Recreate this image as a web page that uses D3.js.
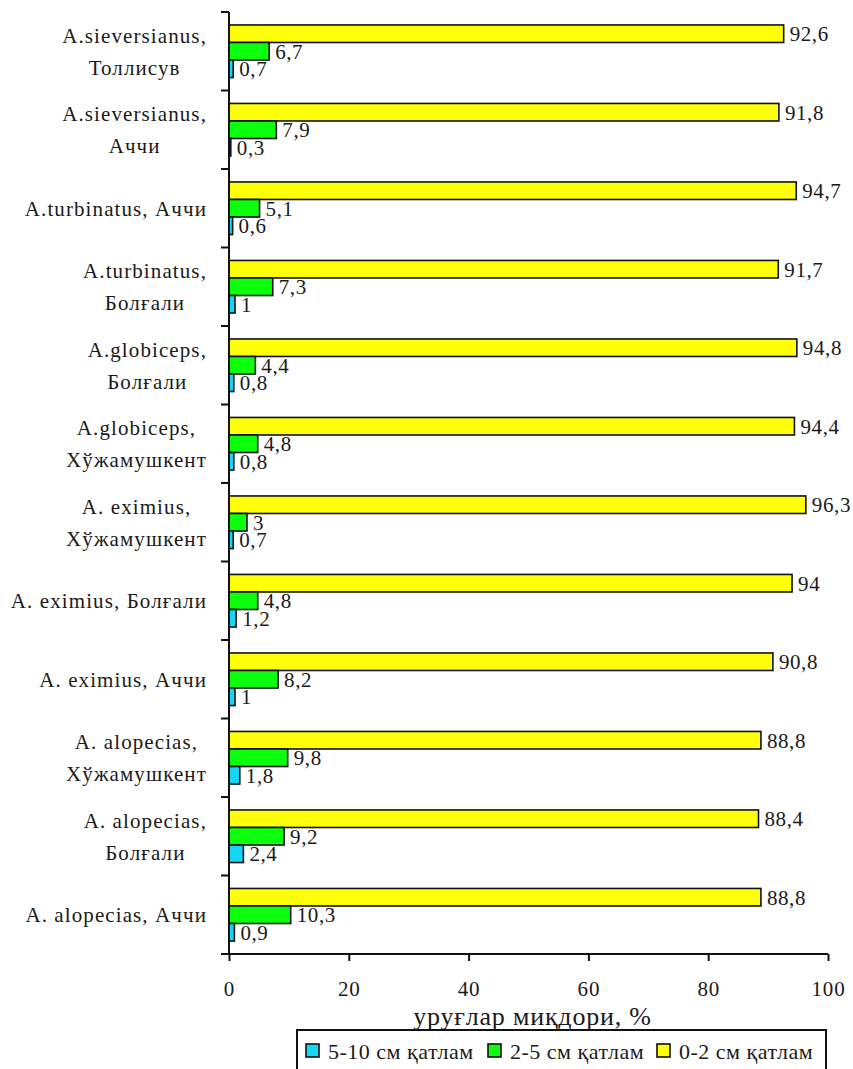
<!DOCTYPE html>
<html>
<head>
<meta charset="utf-8">
<script src="https://cdn.jsdelivr.net/npm/d3@7"></script>
<style>
  body { margin: 0; background: #fff; }
  svg text { font-family: "Liberation Serif", "Times New Roman", serif; fill: #1a1a1a; }
</style>
</head>
<body>
<div id="chart"></div>
<script>
// categories, top to bottom
const categories = [
  ["A.sieversianus,", "Толлисув"],
  ["A.sieversianus,", "Аччи"],
  ["A.turbinatus, Аччи"],
  ["A.turbinatus,", "Болғали"],
  ["A.globiceps,", "Болғали"],
  ["A.globiceps,", "Хўжамушкент"],
  ["A. eximius,", "Хўжамушкент"],
  ["A. eximius, Болғали"],
  ["A. eximius, Аччи"],
  ["A. alopecias,", "Хўжамушкент"],
  ["A. alopecias,", "Болғали"],
  ["A. alopecias, Аччи"]
]
const layer0_2 = [92.6, 91.8, 94.7, 91.7, 94.8, 94.4, 96.3, 94, 90.8, 88.8, 88.4, 88.8]
const layer2_5 = [6.7, 7.9, 5.1, 7.3, 4.4, 4.8, 3, 4.8, 8.2, 9.8, 9.2, 10.3]
const layer5_10 = [0.7, 0.3, 0.6, 1, 0.8, 0.8, 0.7, 1.2, 1, 1.8, 2.4, 0.9]
const seriesNames = ["5-10 см қатлам", "2-5 см қатлам", "0-2 см қатлам"]
const xTicks = [0, 20, 40, 60, 80, 100]
const xTitle = "уруғлар миқдори, %"

const width = 853, height = 1069
const plot = { left: 229, right: 828, top: 12, bottom: 954 }

const series = [
  { name: seriesNames[2], values: layer0_2, color: "#ffff0a" },
  { name: seriesNames[1], values: layer2_5, color: "#0cff0c" },
  { name: seriesNames[0], values: layer5_10, color: "#14d6f6" }
]

const svg = d3.select("#chart").append("svg")
    .attr("width", width)
    .attr("height", height)

const catKeys = categories.map((c, i) => i)

const x = d3.scaleLinear().domain([0, 100]).range([plot.left, plot.right])
const y0 = d3.scaleBand().domain(catKeys).range([plot.top, plot.bottom])
    .paddingInner(0.33).paddingOuter(0.165)
const y1 = d3.scaleBand().domain(series.map(s => s.name)).range([0, y0.bandwidth()])
const step = y0.step()

// bars
const groups = svg.selectAll("g.cat")
    .data(catKeys)
    .join("g")
    .attr("class", "cat")
    .attr("transform", i => `translate(0, ${y0(i)})`)

groups.selectAll("rect")
    .data(i => series.map(s => ({ s, v: s.values[i] })))
    .join("rect")
    .attr("x", x(0))
    .attr("y", d => y1(d.s.name))
    .attr("width", d => x(d.v) - x(0))
    .attr("height", y1.bandwidth())
    .attr("fill", d => d.s.color)
    .attr("stroke", "#111")
    .attr("stroke-width", 1.6)

groups.selectAll("text.val")
    .data(i => series.map(s => ({ s, v: s.values[i] })))
    .join("text")
    .attr("class", "val")
    .attr("x", d => x(d.v) + 6)
    .attr("y", d => y1(d.s.name) + y1.bandwidth() / 2)
    .attr("dy", "0.36em")
    .attr("font-size", 21)
    .attr("letter-spacing", 0.6)
    .text(d => String(d.v).replace(".", ","))

// category labels (wrapped lines centred in a block right-aligned to the axis)
const labelRight = 207
const lineH = 32
categories.forEach((lines, i) => {
  const cy = y0(i) + y0.bandwidth() / 2
  const g = svg.append("g")
  const texts = lines.map((t, j) => g.append("text")
      .attr("font-size", 21)
      .attr("letter-spacing", 1.1)
      .attr("text-anchor", "middle")
      .attr("y", cy + (j - (lines.length - 1) / 2) * lineH)
      .attr("dy", "0.35em")
      .text(t))
  const maxW = d3.max(texts, t => t.node().getComputedTextLength())
  texts.forEach(t => t.attr("x", labelRight - maxW / 2))
})

// y axis line and tick marks at category boundaries
svg.append("line")
    .attr("x1", plot.left).attr("x2", plot.left)
    .attr("y1", plot.top).attr("y2", plot.bottom)
    .attr("stroke", "#111").attr("stroke-width", 2)

const bounds = d3.range(categories.length + 1).map(k => plot.top + k * step)
svg.selectAll("line.ytick")
    .data(bounds)
    .join("line")
    .attr("class", "ytick")
    .attr("x1", plot.left - 8).attr("x2", plot.left)
    .attr("y1", d => d).attr("y2", d => d)
    .attr("stroke", "#111").attr("stroke-width", 2)

// x axis
const xAxis = svg.append("g")
    .attr("transform", `translate(0, ${plot.bottom})`)
    .call(d3.axisBottom(x).tickValues(xTicks).tickSize(7).tickPadding(20).tickSizeOuter(0))
xAxis.select(".domain").attr("stroke", "#111").attr("stroke-width", 2)
    .attr("d", `M${plot.left - 8},0H${plot.right}`)
xAxis.selectAll(".tick line").attr("stroke", "#111").attr("stroke-width", 2)
xAxis.selectAll(".tick text")
    .attr("font-size", 21)
    .attr("letter-spacing", 0.8)

svg.append("text")
    .attr("x", (plot.left + plot.right) / 2 + 4)
    .attr("y", 1025)
    .attr("text-anchor", "middle")
    .attr("font-size", 26)
    .attr("letter-spacing", 0.8)
    .text(xTitle)

// legend
const legend = svg.append("g")
legend.append("rect")
    .attr("x", 297).attr("y", 1030)
    .attr("width", 529).attr("height", 60)
    .attr("fill", "#fff").attr("stroke", "#111").attr("stroke-width", 2)

const legendItems = [series[2], series[1], series[0]]
const legendX = [306, 488, 657]
legendItems.forEach((s, k) => {
  legend.append("rect")
      .attr("x", legendX[k]).attr("y", 1044)
      .attr("width", 13).attr("height", 13)
      .attr("fill", s.color).attr("stroke", "#111").attr("stroke-width", 1.6)
  legend.append("text")
      .attr("x", legendX[k] + 22).attr("y", 1059)
      .attr("font-size", 22)
      .attr("letter-spacing", 0.5)
      .text(s.name)
})
</script>
</body>
</html>
